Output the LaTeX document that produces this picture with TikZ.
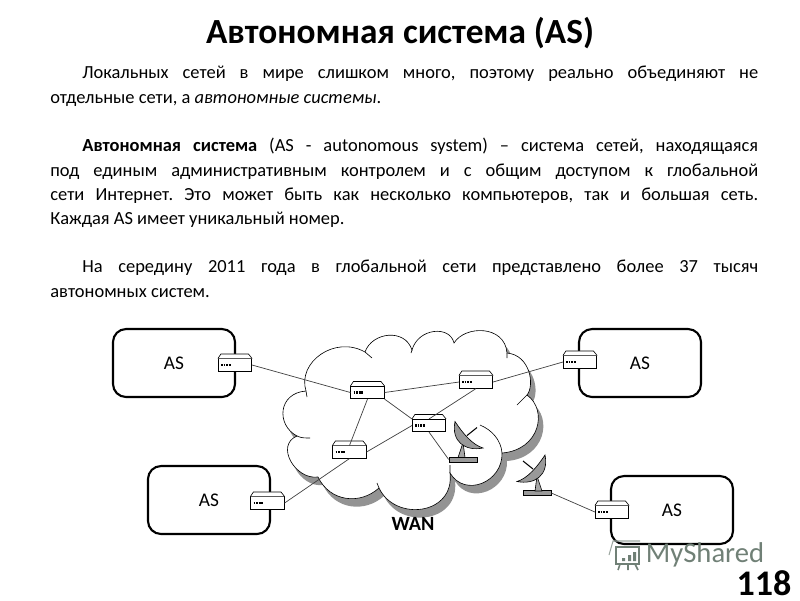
\documentclass[tikz,border=0pt]{standalone}
\usepackage{fontspec}
\setmainfont{Carlito}
\frenchspacing
\tikzset{
  asbox/.style={draw,line width=1.2pt,rounded corners=0.26cm,fill=white,minimum width=2.44cm,minimum height=1.36cm,font=\fontsize{11}{12}\selectfont},
  routerbox/.style={draw,line width=0.35pt,fill=white,minimum width=0.67cm,minimum height=0.25cm,inner sep=0pt},
  absatz/.style={anchor=north west,inner sep=0pt,text width=14.16cm,align=justify,font=\fontsize{10.5}{13.8}\selectfont},
  sockel/.style={draw,line width=0.35pt,fill=gray!80,minimum width=0.56cm,minimum height=0.1cm,inner sep=0pt},
  kabel/.style={draw=black!75,line width=0.4pt}
}
\definecolor{logofarbe}{RGB}{112,128,118}
\begin{document}
\begin{tikzpicture}[x=0.02cm,y=-0.02cm]
\newcommand\wolke{
(306,391) .. controls (297,362) and (335,335) .. (365,352)
.. controls (372,332) and (405,328) .. (412,350)
.. controls (418,328) and (450,325) .. (454,343)
.. controls (465,325) and (505,325) .. (507,353)
.. controls (530,355) and (535,385) .. (527,395)
.. controls (548,410) and (540,450) .. (502,453)
.. controls (503,482) and (465,498) .. (450,473)
.. controls (455,515) and (395,522) .. (379,488)
.. controls (360,505) and (330,502) .. (318,477)
.. controls (295,480) and (275,445) .. (297,436)
.. controls (276,425) and (278,393) .. (306,391)
}
\newcommand\antenne{
\draw[line width=0.35pt,fill=gray!70] (-5,-2) -- (0,-17) -- (2,-2) -- cycle;
\draw[line width=0.6pt] (4,-24) -- (14,-32);
\draw[line width=0.35pt,fill=gray!80] (-8,-38) .. controls (-12,-18) and (2,-8) .. (20,-11.5)
  .. controls (9,-15) and (0,-26) .. (-8,-38) -- cycle;
}
\useasboundingbox (0,0) rectangle (800,600);
% Titel und Text
\node[font=\fontsize{20.1}{24}\selectfont\bfseries] (titel) at (400,33) {Автономная система (AS)};
\node[absatz] (absatz1) at (50,66) {\hspace*{0.64cm}Локальных сетей в мире слишком много, поэтому реально объединяют не\linebreak отдельные сети, а \textit{автономные системы}.};
\node[absatz] (absatz2) at (50,138) {\hspace*{0.64cm}\textbf{Автономная система} (AS - autonomous system) – система сетей, находящаяся\linebreak под единым административным контролем и с общим доступом к глобальной\linebreak сети Интернет. Это может быть как несколько компьютеров, так и большая сеть.\linebreak Каждая AS имеет уникальный номер.};
\node[absatz] (absatz3) at (50,260) {\hspace*{0.64cm}На середину 2011 года в глобальной сети представлено более 37 тысяч\linebreak автономных систем.};
% Wolke
\fill[gray!85,shift={(5,8)}] \wolke;
\draw[line width=0.35pt,fill=white] \wolke;
\draw[line width=0.35pt] (306,391) -- (307,397) (365,352) -- (372,358) (412,350) -- (411,353)
  (507,353) -- (507,358) (527,395) -- (517,405) (450,473) -- (450,465) (379,488) -- (377,483)
  (297,436) .. controls (301,438) and (305,438) .. (310,438)
  (480,425) .. controls (492,430) and (501,440) .. (502,453);
\node[font=\fontsize{11.5}{12}\selectfont\bfseries] (wan) at (413,524) {WAN};
% AS
\node[asbox] (as1) at (174,363) {AS};
\node[asbox] (as2) at (209,500) {AS};
\node[asbox] (as3) at (640,363) {AS};
\node[asbox] (as4) at (672,510) {AS};
% Router
\foreach \name/\x/\y in {r1/235/365,r2/367.5/392.5,r3/429/425.5,r4/349.5/452,r5/267.5/503,r6/476/382,r7/580/362,r8/612/512}{
\node[routerbox] (\name) at (\x,\y) {};
\draw[line width=0.35pt,fill=white] (\name.north west) -- ++(3,-4.5) -- ++(27.5,0) -- (\name.north east);
\draw[line width=1.3pt,dash pattern=on 1.1pt off 0.35pt] (\x-14,\y) -- (\x-4,\y);
}
% Antennen
\node[sockel] (dish1) at (463,459.5) {};
\node[sockel] (dish2) at (537,493) {};
\begin{scope}[shift={(463,459.5)}]
\antenne
\end{scope}
\begin{scope}[shift={(537,493)},xscale=-1]
\antenne
\end{scope}
% Verbindungen
\draw[kabel] (r1.east) -- (r2.west);
\draw[kabel] (r2.east) -- (r6.west);
\draw[kabel] (r6.east) -- (r7.west);
\draw[kabel] (r2.south east) -- (r3.north west);
\draw[kabel] (r2.south) -- (r4.north);
\draw[kabel] (r3.west) -- (r4.east);
\draw[kabel] (r3.north) -- (r6.south);
\draw[kabel] (r4.south) -- (r5.east);
\draw[kabel] (r3.south) -- (dish1.west);
\draw[kabel] (dish2.east) -- (r8.west);
% Logo und Nummer
\node[font=\fontsize{16.3}{20}\selectfont,text=logofarbe,inner sep=0pt] (logo) at (705,555) {MyShared};
\draw[line width=0.9pt,logofarbe] (616,547) rectangle (639,564) (620,564) -- (618,570) (628,564) -- (628,570) (635,564) -- (638,570);
\draw[line width=0.6pt,logofarbe!70] (609,555) -- (613,541) -- (640,541);
\fill[logofarbe] (622,558) rectangle (625,561) (628,555) rectangle (631,561) (633,552) rectangle (636,561);
\node[font=\fontsize{20.5}{24}\selectfont\bfseries,inner sep=0pt] (nummer) at (764,583.5) {118};
\end{tikzpicture}
\end{document}
